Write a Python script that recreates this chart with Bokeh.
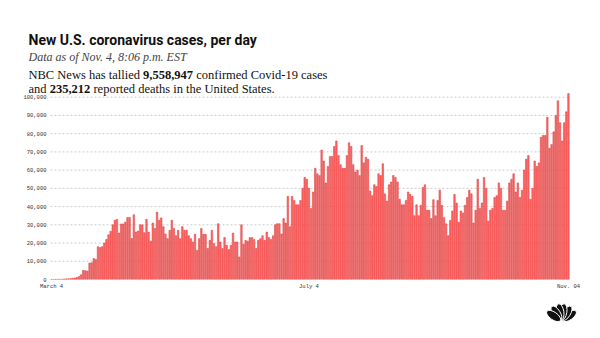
import numpy as np
import pandas as pd
from bokeh.plotting import figure
from bokeh.models import ColumnDataSource, Range1d, FixedTicker, NumeralTickFormatter, Label
from bokeh.layouts import column
from bokeh.embed import file_html
from bokeh.resources import INLINE

# ---------------- data ----------------
dates = pd.date_range("2020-03-04", "2020-11-04", freq="D")

new_cases = [
    # Mar 4 - Mar 17
    30, 70, 60, 100, 120, 170, 290, 360, 450, 550, 700, 800, 1100, 1600,
    # Mar 18 - Apr 1
    2600, 5000, 4900, 4600, 9000, 9200, 11500, 11000, 18000, 17500, 18000, 20000, 22000, 24500, 26500,
    # Apr 2 - Apr 12
    30000, 32500, 33000, 25500, 30500, 30500, 31500, 34000, 34000, 22500, 35500,
    # Apr 13 - May 22
    26000, 26600, 30000, 30000, 25700, 33000, 26000, 21000, 31000, 28000,
    37000, 32500, 33800, 29000, 25000, 22400, 27000, 32500, 28000, 24000,
    27000, 22400, 29000, 27000, 27000, 24000, 22400, 20600, 24800, 16000,
    22400, 28000, 24800, 24800, 17000, 21500, 27000, 19700, 18000, 30600,
    # May 23 - Jul 4
    20600, 17000, 23000, 18800, 16400, 18800, 25500, 20600, 20600, 12400,
    30000, 19300, 21500, 21000, 23000, 23000, 22000, 17000, 21500, 22400,
    24000, 21500, 26000, 23000, 22000, 24000, 30000, 30600, 30600, 25000,
    33400, 31000, 45600, 29000, 45600, 43400, 41000, 41000, 43400, 50000,
    56000, 55000, 50000,
    # Jul 5 - Aug 11
    39000, 48000, 61000, 58000, 57000, 71000, 65000, 53000, 62000, 67500,
    67500, 73000, 76000, 68000, 63000, 61000, 61000, 68000, 75000, 73000,
    63000, 59000, 60000, 57000, 73500, 64000, 67000, 66000, 48500, 46000,
    52000, 51000, 58000, 57000, 63500, 47000, 43000, 52000,
    # Aug 12 - Sep 20
    53500, 57000, 56000, 53500, 44000, 41000, 41000, 43400, 48000, 46700,
    45600, 35000, 41000, 35000, 40700, 50500, 52000, 38000, 38000, 33400,
    43800, 35000, 43400, 49000, 40700, 34000, 30600, 24000, 32500, 37600,
    46700, 42000, 31400, 37600, 36500, 40700, 45000, 49000, 47000, 31000,
    # Sep 21 - Nov 4
    38000, 55000, 39000, 42000, 56000, 50000, 32000, 38000, 39000, 45000,
    46000, 53000, 50000, 38000, 38000, 43000, 53000, 55000, 58000, 48000,
    53000, 45000, 49000, 60000, 66000, 68000, 44000, 50000, 65000, 62000,
    64000, 78000, 79000, 79000, 89000, 72000, 74000, 81000, 90000, 98000,
    86000, 76000, 86000, 92000, 102000,
]
assert len(new_cases) == len(dates), (len(new_cases), len(dates))

tick_days = [0, 122, 245]
tick_labels = ["March 4", "July 4", "Nov. 04"]
y_ticks = [0, 10000, 20000, 30000, 40000, 50000, 60000, 70000, 80000, 90000, 100000]

title_text = "New U.S. coronavirus cases, per day"
subtitle_text = "Data as of Nov. 4, 8:06 p.m. EST"
line1_parts = ["NBC News has tallied", "9,558,947", "confirmed Covid-19 cases"]
line2_parts = ["and", "235,212", "reported deaths in the United States."]

# ---------------- layout geometry (canvas px) ----------------
W = 600
MAIN_H, FOOT_H = 295, 43
FRAME_L, FRAME_R = 28, 580          # frame spans header text too
BARS_L, BARS_R = 50, 569            # where the bars sit
ZERO_Y, TOP_Y = 279, 96.7           # canvas y of 0 and of 100,000

n = len(dates)
px_day = (BARS_R - BARS_L) / n
x_start = -0.5 - (BARS_L - FRAME_L) / px_day
x_end = (n - 0.5) + (FRAME_R - BARS_R) / px_day
y_end = 100000 * ZERO_Y / (ZERO_Y - TOP_Y)

# ---------------- main chart ----------------
src = ColumnDataSource(dict(day=np.arange(n), cases=new_cases))

p = figure(width=W, height=MAIN_H,
           x_range=Range1d(x_start, x_end), y_range=Range1d(0, y_end),
           output_backend="svg", toolbar_location=None, title=None,
           min_border_left=FRAME_L, min_border_right=W - FRAME_R,
           min_border_top=0, min_border_bottom=MAIN_H - ZERO_Y)
p.background_fill_color = "white"
p.border_fill_color = "white"
p.outline_line_color = None
p.xgrid.visible = False
p.ygrid.visible = False

# dashed gridlines only across the bar area
p.segment(x0=-0.5, x1=n - 0.5, y0=y_ticks, y1=y_ticks,
          line_color="#cccccc", line_dash="2 2", line_width=1)

p.vbar(x="day", top="cases", width=0.72, source=src,
       fill_color="#FF6868", line_color="#DC3A3A", line_width=0.5)

mono = "Liberation Mono"
p.yaxis.ticker = FixedTicker(ticks=y_ticks)
p.yaxis.formatter = NumeralTickFormatter(format="0,0")
p.xaxis.ticker = FixedTicker(ticks=tick_days)
p.xaxis.major_label_overrides = {d: lab for d, lab in zip(tick_days, tick_labels)}

for ax in (p.xaxis, p.yaxis):
    ax.axis_line_color = None
    ax.major_tick_line_color = None
    ax.minor_tick_line_color = None
    ax.major_tick_out = 0
    ax.major_tick_in = 0
    ax.major_label_text_font = mono
    ax.major_label_text_font_size = "5.5px"
    ax.major_label_text_color = "#333333"
# y labels end 4px left of the bars (inside the widened frame)
p.yaxis.major_label_standoff = -(BARS_L - 4 - FRAME_L)
p.xaxis.major_label_standoff = 3


# ---------------- header texts (screen units from frame bottom-left) ----------------
def add_text(txt, cx, cy, size, font, style="normal", color="#111111"):
    p.add_layout(Label(x=cx - FRAME_L, y=ZERO_Y - cy, x_units="screen", y_units="screen",
                       text=txt, text_font=font, text_font_size=size,
                       text_font_style=style, text_color=color,
                       text_baseline="alphabetic", text_align="left"))


add_text(title_text, 28, 39.5, "14px", "Roboto", "bold", "#111111")
add_text(subtitle_text, 28, 56.5, "12px", "Liberation Serif", "italic", "#444444")

serif = "Liberation Serif"
em = 12.5 / 1000.0          # Times-metric widths (1/1000 em)
sp = 250 * em
w1 = 8916 * em
w2 = 4000 * em
add_text(line1_parts[0], 28, 74, "12.5px", serif)
add_text(line1_parts[1], 28 + w1 + sp, 74, "12.5px", serif, "bold")
add_text(line1_parts[2], 28 + w1 + sp + w2 + sp, 74, "12.5px", serif)
v1 = 1444 * em
v2 = 3250 * em
add_text(line2_parts[0], 28, 88.5, "12.5px", serif)
add_text(line2_parts[1], 28 + v1 + sp, 88.5, "12.5px", serif, "bold")
add_text(line2_parts[2], 28 + v1 + sp + v2 + sp, 88.5, "12.5px", serif)

# ---------------- footer with peacock logo ----------------
foot = figure(width=W, height=FOOT_H, x_range=Range1d(FRAME_L, FRAME_R), y_range=Range1d(0, FOOT_H),
              output_backend="svg", toolbar_location=None, title=None,
              min_border_left=FRAME_L, min_border_right=W - FRAME_R,
              min_border_top=0, min_border_bottom=0,
              x_axis_location=None, y_axis_location=None)
foot.grid.visible = False
foot.outline_line_color = None
foot.background_fill_color = "white"
foot.border_fill_color = "white"

feather_angles = np.radians([35, 58, 81, 99, 122, 145])
base_x, base_y, L = 561.0, 17.0, 17.5
foot.ellipse(x=base_x + 0.55 * L * np.cos(feather_angles),
             y=base_y + 0.55 * L * np.sin(feather_angles),
             width=0.94 * L, height=0.44 * L, angle=feather_angles,
             fill_color="#111111", line_color="white", line_width=1)

layout = column(p, foot, spacing=0)
open("out.html", "w").write(file_html(layout, INLINE))
